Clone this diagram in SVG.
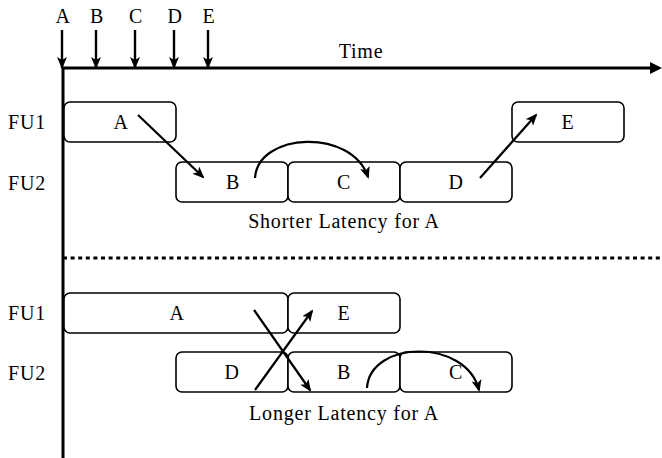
<svg xmlns="http://www.w3.org/2000/svg" width="662" height="458" viewBox="0 0 662 458">
<defs>
<marker id="ah" viewBox="0 0 12 10" refX="10" refY="5" markerWidth="12" markerHeight="10" markerUnits="userSpaceOnUse" orient="auto">
<path d="M0,0 L12,5 L0,10 L3,5 z" fill="#000"/>
</marker>
<marker id="ah2" viewBox="0 0 12 10" refX="11" refY="5" markerWidth="12" markerHeight="10" markerUnits="userSpaceOnUse" orient="auto">
<path d="M0,0 L12,5 L0,10 L3,5 z" fill="#000"/>
</marker>
<style>
text{font-family:"Liberation Serif","DejaVu Serif",serif;font-size:20px;letter-spacing:0.8px;fill:#000}
.c{text-anchor:middle}
.box rect{fill:#fff;stroke:#000;stroke-width:1.6}
.ax{stroke:#000;stroke-width:3;fill:none}
.arr{stroke:#000;stroke-width:2.2;fill:none;marker-end:url(#ah)}
.tick{stroke:#000;stroke-width:2.4;fill:none;marker-end:url(#ah2)}
</style>
</defs>
<g id="axes">
<line class="ax" x1="63" y1="68" x2="63" y2="458"/>
<line class="ax" x1="63" y1="68" x2="652" y2="68"/>
<path d="M650,62 L662,68 L650,74 z" fill="#000"/>
<line x1="63" y1="258" x2="662" y2="258" stroke="#000" stroke-width="3" stroke-dasharray="4 3.6"/>
<text class="c" x="361" y="58">Time</text>
</g>
<g id="ticks">
<line class="tick" x1="62" y1="30" x2="62" y2="68"/>
<line class="tick" x1="96" y1="30" x2="96" y2="68"/>
<line class="tick" x1="135" y1="30" x2="135" y2="68"/>
<line class="tick" x1="174" y1="30" x2="174" y2="68"/>
<line class="tick" x1="208" y1="30" x2="208" y2="68"/>
<text class="c" x="63" y="23">A</text>
<text class="c" x="97" y="23">B</text>
<text class="c" x="136" y="23">C</text>
<text class="c" x="175" y="23">D</text>
<text class="c" x="209" y="23">E</text>
</g>
<g id="labels">
<text class="c" x="27" y="129">FU1</text>
<text class="c" x="27" y="190">FU2</text>
<text class="c" x="344" y="228">Shorter Latency for A</text>
<text class="c" x="27" y="320">FU1</text>
<text class="c" x="27" y="380">FU2</text>
<text class="c" x="344" y="420">Longer Latency for A</text>
</g>
<g id="top-A" class="box"><rect x="64" y="102" width="112" height="40" rx="6"/><text class="c" x="121" y="129">A</text></g>
<g id="top-E" class="box"><rect x="512" y="102" width="112" height="40" rx="6"/><text class="c" x="568" y="129">E</text></g>
<g id="top-B" class="box"><rect x="176" y="162" width="112" height="40" rx="6"/><text class="c" x="233" y="189">B</text></g>
<g id="top-C" class="box"><rect x="288" y="162" width="112" height="40" rx="6"/><text class="c" x="344" y="189">C</text></g>
<g id="top-D" class="box"><rect x="400" y="162" width="112" height="40" rx="6"/><text class="c" x="456" y="189">D</text></g>
<g id="bot-A" class="box"><rect x="64" y="293" width="224" height="40" rx="6"/><text class="c" x="177" y="320">A</text></g>
<g id="bot-E" class="box"><rect x="288" y="293" width="112" height="40" rx="6"/><text class="c" x="344" y="320">E</text></g>
<g id="bot-D" class="box"><rect x="176" y="352" width="112" height="40" rx="6"/><text class="c" x="232" y="379">D</text></g>
<g id="bot-B" class="box"><rect x="288" y="352" width="112" height="40" rx="6"/><text class="c" x="344" y="379">B</text></g>
<g id="bot-C" class="box"><rect x="400" y="352" width="112" height="40" rx="6"/><text class="c" x="456" y="379">C</text></g>
<g id="connectors">
<line class="arr" x1="138" y1="115" x2="203" y2="177"/>
<path class="arr" d="M255,178 C258,132 352,128 368,177"/>
<line class="arr" x1="480" y1="178" x2="536" y2="115"/>
<line class="arr" x1="254" y1="310" x2="310" y2="390"/>
<line class="arr" x1="255" y1="390" x2="312" y2="311"/>
<path class="arr" d="M367,388 C370,340 466,338 479,390"/>
</g>
</svg>
